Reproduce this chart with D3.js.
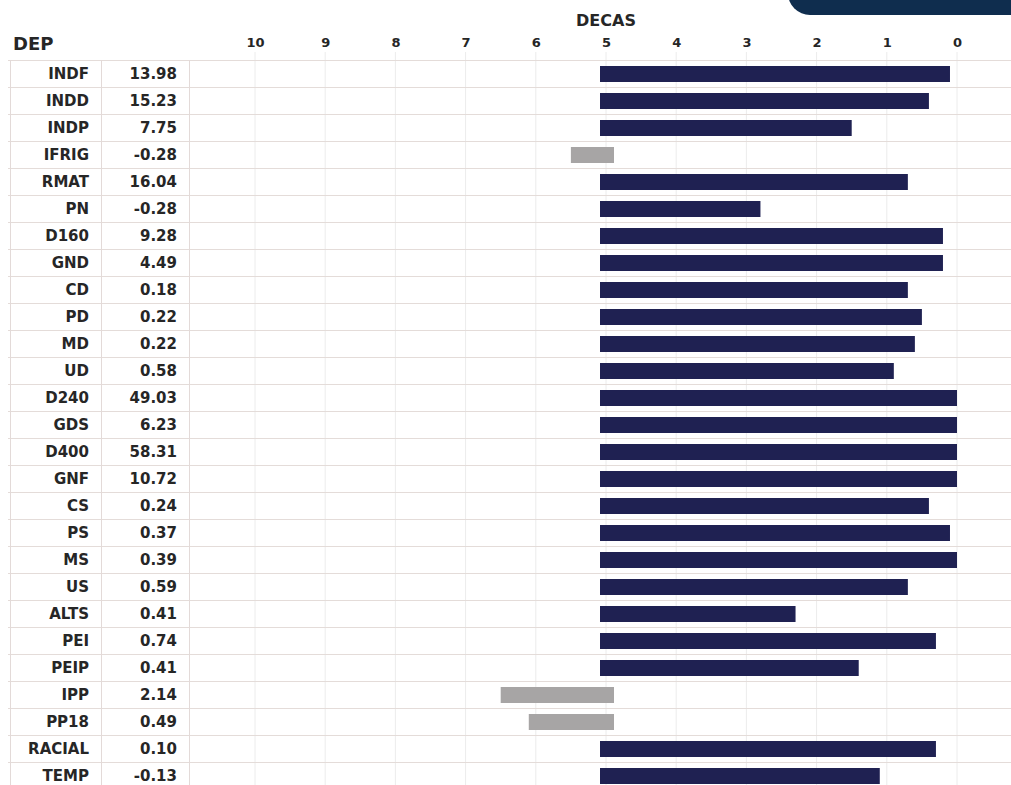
<!DOCTYPE html>
<html>
<head>
<meta charset="utf-8">
<script src="https://cdn.jsdelivr.net/npm/d3@7"></script>
<style>
  body { margin: 0; background: #fff; }
  text { font-family: "DejaVu Sans", Verdana, sans-serif; font-weight: bold; fill: #262626; }
</style>
</head>
<body>
<svg id="chart"></svg>
<script>
// Variables (rows, top to bottom)
const variables = ['INDF', 'INDD', 'INDP', 'IFRIG', 'RMAT', 'PN', 'D160', 'GND', 'CD', 'PD', 'MD', 'UD',
    'D240', 'GDS', 'D400', 'GNF', 'CS', 'PS', 'MS', 'US', 'ALTS', 'PEI', 'PEIP', 'IPP', 'PP18', 'RACIAL', 'TEMP'];

// Values shown in the second column
const values = ['13.98', '15.23', '7.75', '-0.28', '16.04', '-0.28', '9.28', '4.49', '0.18', '0.22', '0.22', '0.58',
    '49.03', '6.23', '58.31', '10.72', '0.24', '0.37', '0.39', '0.59', '0.41', '0.74', '0.41', '2.14', '0.49', '0.10', '-0.13'];

// Decile where each bar ends
const decileEnd = [0.1, 0.4, 1.5, 5.5, 0.7, 2.8, 0.2, 0.2, 0.7, 0.5, 0.6, 0.9,
    0, 0, 0, 0, 0.4, 0.1, 0, 0.7, 2.3, 0.3, 1.4, 6.5, 6.1, 0.3, 1.1];

// Bar kind: 'up' = navy bar toward 0, 'down' = grey bar toward 10
const barKind = ['up', 'up', 'up', 'down', 'up', 'up', 'up', 'up', 'up', 'up', 'up', 'up',
    'up', 'up', 'up', 'up', 'up', 'up', 'up', 'up', 'up', 'up', 'up', 'down', 'down', 'up', 'up'];

// Axis ticks
const decileTicks = [10, 9, 8, 7, 6, 5, 4, 3, 2, 1, 0];
const baseDecile = 5;

const rows = variables.map((name, i) => ({
    name, value: values[i], end: decileEnd[i], kind: barKind[i]
}));

const W = 1011, H = 785;
const svg = d3.select('#chart').attr('width', W).attr('height', H);

const colors = { up: '#1f2152', down: '#a7a5a5' };

// Scales
const x = d3.scaleLinear().domain([10, 0]).range([255, 957]);
const y = d3.scaleBand().domain(variables).range([60, 60 + 27 * variables.length]).paddingInner(0);
const barH = 16;

// Decorative header shape (top right)
svg.append('rect')
    .attr('x', 788).attr('y', -40)
    .attr('width', 260).attr('height', 55)
    .attr('rx', 22)
    .attr('fill', '#0f2d4e');

// Vertical grid
svg.append('g').selectAll('line')
    .data(decileTicks)
    .join('line')
    .attr('x1', d => x(d)).attr('x2', d => x(d))
    .attr('y1', 52).attr('y2', H)
    .attr('stroke', '#ececec')
    .attr('stroke-width', 1);

// Row lines
svg.append('g').selectAll('line')
    .data(d3.range(variables.length + 1))
    .join('line')
    .attr('x1', 8).attr('x2', W)
    .attr('y1', i => 60 + i * y.bandwidth() + 0.5)
    .attr('y2', i => 60 + i * y.bandwidth() + 0.5)
    .attr('stroke', '#e4dcd9')
    .attr('stroke-width', 1.2);

// Table column borders
svg.append('g').selectAll('line')
    .data([10, 101, 189])
    .join('line')
    .attr('x1', d => d + 0.5).attr('x2', d => d + 0.5)
    .attr('y1', 60).attr('y2', H)
    .attr('stroke', '#e3dad8')
    .attr('stroke-width', 1);

// Axis on top
const xAxis = d3.axisTop(x).tickValues(decileTicks).tickSize(0).tickPadding(0);
const axisG = svg.append('g')
    .attr('transform', 'translate(0,47)')
    .call(xAxis);
axisG.select('.domain').remove();
axisG.selectAll('text')
    .attr('font-size', 13)
    .attr('font-family', '"DejaVu Sans", Verdana, sans-serif')
    .attr('fill', '#262626');

// Titles
svg.append('text').attr('x', 13).attr('y', 50).attr('font-size', 18).text('DEP');
svg.append('text').attr('x', x(baseDecile)).attr('y', 26).attr('text-anchor', 'middle')
    .attr('font-size', 16).text('DECAS');

// Labels
const rowG = svg.append('g').selectAll('g')
    .data(rows)
    .join('g')
    .attr('transform', d => `translate(0,${y(d.name) + y.bandwidth() / 2})`);

rowG.append('text')
    .attr('x', 89).attr('dy', '0.36em')
    .attr('text-anchor', 'end')
    .attr('font-size', 15)
    .text(d => d.name);

rowG.append('text')
    .attr('x', 177).attr('dy', '0.36em')
    .attr('text-anchor', 'end')
    .attr('font-size', 15)
    .text(d => d.value);

// Bars: navy ones run from the middle toward 0, grey ones toward 10
svg.append('g').selectAll('rect')
    .data(rows)
    .join('rect')
    .attr('x', d => d.kind === 'up' ? x(baseDecile) - 6 : x(d.end))
    .attr('width', d => d.kind === 'up' ? x(d.end) - x(baseDecile) + 6 : x(baseDecile) + 8 - x(d.end))
    .attr('y', d => y(d.name) + (y.bandwidth() - barH) / 2 + 0.5)
    .attr('height', barH)
    .attr('fill', d => colors[d.kind]);
</script>
</body>
</html>
